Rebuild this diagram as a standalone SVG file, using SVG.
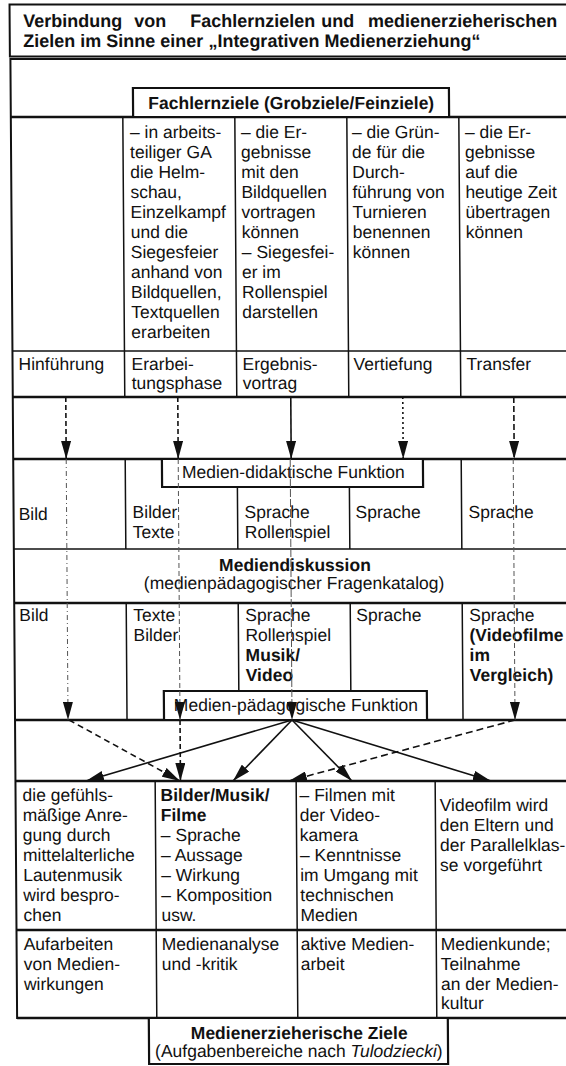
<svg xmlns="http://www.w3.org/2000/svg" width="566" height="1066" viewBox="0 0 566 1066">
<defs>
<style>
.t{font-family:"Liberation Sans",Arial,Helvetica,sans-serif;font-size:17.5px;fill:#111}
.h{font-size:18px;font-weight:bold}
.b{font-weight:bold}
.i{font-style:italic}
.c{text-anchor:middle}
.e{text-anchor:end}
.frame{fill:none;stroke:#111;stroke-width:2}
.grid{stroke:#111;stroke-width:1.5;fill:none}
.heavy{stroke:#111;stroke-width:2.4;fill:none}
.box{fill:#fff;stroke:#111;stroke-width:2.2}
.arr{fill:none;stroke:#111;stroke-width:1.6}
.faint{fill:none;stroke:#555;stroke-width:1}
</style>
<marker id="ah" viewBox="0 0 18 10" refX="18" refY="5" markerWidth="18" markerHeight="10" markerUnits="userSpaceOnUse" orient="auto">
<path d="M0,0 L18,5 L0,10 z" fill="#111"/>
</marker>
</defs>
<rect width="566" height="1066" fill="#fff"/>
<g transform="skewX(0.4)">

<g id="title">
<rect class="frame" x="9.5" y="4.5" width="580" height="52"/>
<text class="t h" y="27.5"><tspan x="23">Verbindung</tspan><tspan x="134">von</tspan><tspan x="190">Fachlernzielen</tspan><tspan x="321">und</tspan></text>
<text class="t h e" x="557" y="27.5">medienerzieherischen</text>
<text class="t h" x="23" y="47">Zielen im Sinne einer „Integrativen Medienerziehung“</text>
</g>

<g id="grid">
<rect class="frame" x="10" y="59" width="580" height="959"/>
<line class="heavy" x1="10" y1="117" x2="590" y2="117"/>
<line class="grid" x1="10" y1="351" x2="590" y2="351"/>
<line class="heavy" x1="10" y1="397" x2="590" y2="397"/>
<line class="heavy" x1="10" y1="459" x2="590" y2="459"/>
<line class="grid" x1="10" y1="549" x2="590" y2="549"/>
<line class="heavy" x1="10" y1="603" x2="590" y2="603"/>
<line class="heavy" x1="10" y1="720" x2="590" y2="720"/>
<line class="heavy" x1="10" y1="781" x2="590" y2="781"/>
<line class="heavy" x1="10" y1="930" x2="590" y2="930"/>
<line class="heavy" x1="10" y1="1018" x2="590" y2="1018"/>
<path class="grid" d="M122,117V397M234,117V397M346,117V397M458,117V397"/>
<path class="grid" d="M122,459V549M234,459V549M346,459V549M458,459V549"/>
<path class="grid" d="M122,603V720M234,603V720M346,603V720M458,603V720"/>
<path class="grid" d="M149.7,781V1018M290.7,781V1018M429.7,781V1018"/>
</g>

<g id="fachlernziele">
<rect class="box" x="132.3" y="88" width="316" height="29"/>
<text class="t b c" x="290.5" y="109">Fachlernziele (Grobziele/Feinziele)</text>
</g>

<g id="ziel-erarbeitung">
<text class="t"><tspan x="129" y="138.5">– in arbeits-</tspan><tspan x="129" y="158.5">teiliger GA</tspan><tspan x="129" y="178.5">die Helm-</tspan><tspan x="129" y="198.5">schau,</tspan><tspan x="129" y="218.5">Einzelkampf</tspan><tspan x="129" y="238.5">und die</tspan><tspan x="129" y="258.5">Siegesfeier</tspan><tspan x="129" y="278.5">anhand von</tspan><tspan x="129" y="298.5">Bildquellen,</tspan><tspan x="129" y="318.5">Textquellen</tspan><tspan x="129" y="338.5">erarbeiten</tspan></text>
</g>
<g id="ziel-ergebnis">
<text class="t"><tspan x="240" y="138.5">– die Er-</tspan><tspan x="240" y="158.5">gebnisse</tspan><tspan x="240" y="178.5">mit den</tspan><tspan x="240" y="198.5">Bildquellen</tspan><tspan x="240" y="218.5">vortragen</tspan><tspan x="240" y="238.5">können</tspan><tspan x="240" y="258.5">– Siegesfei-</tspan><tspan x="240" y="278.5">er im</tspan><tspan x="240" y="298.5">Rollenspiel</tspan><tspan x="240" y="318.5">darstellen</tspan></text>
</g>
<g id="ziel-vertiefung">
<text class="t"><tspan x="351" y="138.5">– die Grün-</tspan><tspan x="351" y="158.5">de für die</tspan><tspan x="351" y="178.5">Durch-</tspan><tspan x="351" y="198.5">führung von</tspan><tspan x="351" y="218.5">Turnieren</tspan><tspan x="351" y="238.5">benennen</tspan><tspan x="351" y="258.5">können</tspan></text>
</g>
<g id="ziel-transfer">
<text class="t"><tspan x="464" y="138.5">– die Er-</tspan><tspan x="464" y="158.5">gebnisse</tspan><tspan x="464" y="178.5">auf die</tspan><tspan x="464" y="198.5">heutige Zeit</tspan><tspan x="464" y="218.5">übertragen</tspan><tspan x="464" y="238.5">können</tspan></text>
</g>

<g id="phase-hinfuehrung"><text class="t" x="16" y="370.5">Hinführung</text></g>
<g id="phase-erarbeitung"><text class="t"><tspan x="129" y="370.5">Erarbei-</tspan><tspan x="129" y="389.5">tungsphase</tspan></text></g>
<g id="phase-ergebnis"><text class="t"><tspan x="240" y="370.5">Ergebnis-</tspan><tspan x="240" y="389.5">vortrag</tspan></text></g>
<g id="phase-vertiefung"><text class="t" x="351" y="370.5">Vertiefung</text></g>
<g id="phase-transfer"><text class="t" x="464" y="370.5">Transfer</text></g>

<g id="didaktik-1"><text class="t" x="15" y="520">Bild</text></g>
<g id="didaktik-2"><text class="t"><tspan x="129" y="518">Bilder</tspan><tspan x="129" y="538">Texte</tspan></text></g>
<g id="didaktik-3"><text class="t"><tspan x="241" y="518">Sprache</tspan><tspan x="241" y="538">Rollenspiel</tspan></text></g>
<g id="didaktik-4"><text class="t" x="352" y="518">Sprache</text></g>
<g id="didaktik-5"><text class="t" x="465" y="518">Sprache</text></g>

<g id="medien-didaktisch">
<rect class="box" x="158.7" y="459" width="261" height="28"/>
<text class="t c" x="290" y="478.5">Medien-didaktische Funktion</text>
</g>

<g id="mediendiskussion">
<text class="t b c" x="291" y="571">Mediendiskussion</text>
<text class="t c" x="290" y="589.5">(medienpädagogischer Fragenkatalog)</text>
</g>

<g id="paedagogik-1"><text class="t" x="15" y="621">Bild</text></g>
<g id="paedagogik-2"><text class="t"><tspan x="129" y="621">Texte</tspan><tspan x="129" y="641">Bilder</tspan></text></g>
<g id="paedagogik-3"><text class="t"><tspan x="241" y="621">Sprache</tspan><tspan x="241" y="641">Rollenspiel</tspan><tspan x="241" y="661" font-weight="bold">Musik/</tspan><tspan x="241" y="681" font-weight="bold">Video</tspan></text></g>
<g id="paedagogik-4"><text class="t" x="352" y="621">Sprache</text></g>
<g id="paedagogik-5"><text class="t"><tspan x="465" y="621">Sprache</tspan><tspan x="465" y="641" font-weight="bold">(Videofilme</tspan><tspan x="465" y="661" font-weight="bold">im</tspan><tspan x="465" y="681" font-weight="bold">Vergleich)</tspan></text></g>

<g id="medien-paedagogisch">
<rect class="box" x="159" y="691" width="263" height="29"/>
<text class="t c" x="291" y="711">Medien-pädagogische Funktion</text>
</g>

<g id="aktivitaet-1"><text class="t"><tspan x="17" y="801">die gefühls-</tspan><tspan x="17" y="821">mäßige Anre-</tspan><tspan x="17" y="841">gung durch</tspan><tspan x="17" y="861">mittelalterliche</tspan><tspan x="17" y="881">Lautenmusik</tspan><tspan x="17" y="901">wird bespro-</tspan><tspan x="17" y="921">chen</tspan></text></g>
<g id="aktivitaet-2"><text class="t"><tspan x="155" y="801" font-weight="bold">Bilder/Musik/</tspan><tspan x="155" y="821" font-weight="bold">Filme</tspan><tspan x="155" y="841">– Sprache</tspan><tspan x="155" y="861">– Aussage</tspan><tspan x="155" y="881">– Wirkung</tspan><tspan x="155" y="901">– Komposition</tspan><tspan x="155" y="921">usw.</tspan></text></g>
<g id="aktivitaet-3"><text class="t"><tspan x="294" y="801">– Filmen mit</tspan><tspan x="294" y="821">der Video-</tspan><tspan x="294" y="841">kamera</tspan><tspan x="294" y="861">– Kenntnisse</tspan><tspan x="294" y="881">im Umgang mit</tspan><tspan x="294" y="901">technischen</tspan><tspan x="294" y="921">Medien</tspan></text></g>
<g id="aktivitaet-4"><text class="t"><tspan x="434" y="811">Videofilm wird</tspan><tspan x="434" y="831">den Eltern und</tspan><tspan x="434" y="851">der Parallelklas-</tspan><tspan x="434" y="871">se vorgeführt</tspan></text></g>

<g id="bereich-1"><text class="t"><tspan x="17" y="950">Aufarbeiten</tspan><tspan x="17" y="970">von Medien-</tspan><tspan x="17" y="990">wirkungen</tspan></text></g>
<g id="bereich-2"><text class="t"><tspan x="155" y="950">Medienanalyse</tspan><tspan x="155" y="970">und -kritik</tspan></text></g>
<g id="bereich-3"><text class="t"><tspan x="294" y="950">aktive Medien-</tspan><tspan x="294" y="970">arbeit</tspan></text></g>
<g id="bereich-4"><text class="t"><tspan x="434" y="950">Medienkunde;</tspan><tspan x="434" y="970">Teilnahme</tspan><tspan x="434" y="990">an der Medien-</tspan><tspan x="434" y="1009">kultur</tspan></text></g>

<g id="medienerzieherische-ziele">
<rect class="box" x="141.7" y="1018" width="299" height="46"/>
<text class="t b c" x="292" y="1039">Medienerzieherische Ziele</text>
<text class="t c" x="291.5" y="1057">(Aufgabenbereiche nach <tspan class="i">Tulodziecki</tspan>)</text>
</g>

<g id="connectors">
<line class="arr" x1="63" y1="397" x2="63" y2="459" stroke-dasharray="5,3" marker-end="url(#ah)"/>
<line class="arr" x1="175" y1="397" x2="175" y2="459" stroke-dasharray="5,3" marker-end="url(#ah)"/>
<line class="arr" x1="288" y1="397" x2="288" y2="459" marker-end="url(#ah)"/>
<line class="arr" x1="400" y1="397" x2="400" y2="459" stroke-dasharray="2,3" marker-end="url(#ah)"/>
<line class="arr" x1="511" y1="397" x2="511" y2="459" stroke-dasharray="6,3" marker-end="url(#ah)"/>
<line class="faint" x1="63" y1="459" x2="63" y2="720" stroke-dasharray="5,3,1,3" marker-end="url(#ah)"/>
<line class="faint" x1="175" y1="459" x2="175" y2="720" stroke-dasharray="5,3" marker-end="url(#ah)"/>
<line class="faint" x1="287" y1="459" x2="287" y2="720" stroke-dasharray="8,2" marker-end="url(#ah)"/>
<line class="faint" x1="510" y1="459" x2="510" y2="720" stroke-dasharray="5,3" marker-end="url(#ah)"/>
<line class="arr" x1="64" y1="720" x2="174.5" y2="781" stroke-dasharray="6,4" marker-end="url(#ah)"/>
<line class="arr" x1="175" y1="720" x2="175" y2="781" stroke-dasharray="5,3" marker-end="url(#ah)"/>
<line class="arr" x1="287" y1="720" x2="80.5" y2="781" marker-end="url(#ah)"/>
<line class="arr" x1="287" y1="720" x2="227.5" y2="781" marker-end="url(#ah)"/>
<line class="arr" x1="287" y1="720" x2="346.5" y2="781" marker-end="url(#ah)"/>
<line class="arr" x1="287" y1="720" x2="485.5" y2="781" marker-end="url(#ah)"/>
<line class="arr" x1="510" y1="720" x2="283.5" y2="781" stroke-dasharray="7,4" marker-end="url(#ah)"/>
</g>
</g>
</svg>
